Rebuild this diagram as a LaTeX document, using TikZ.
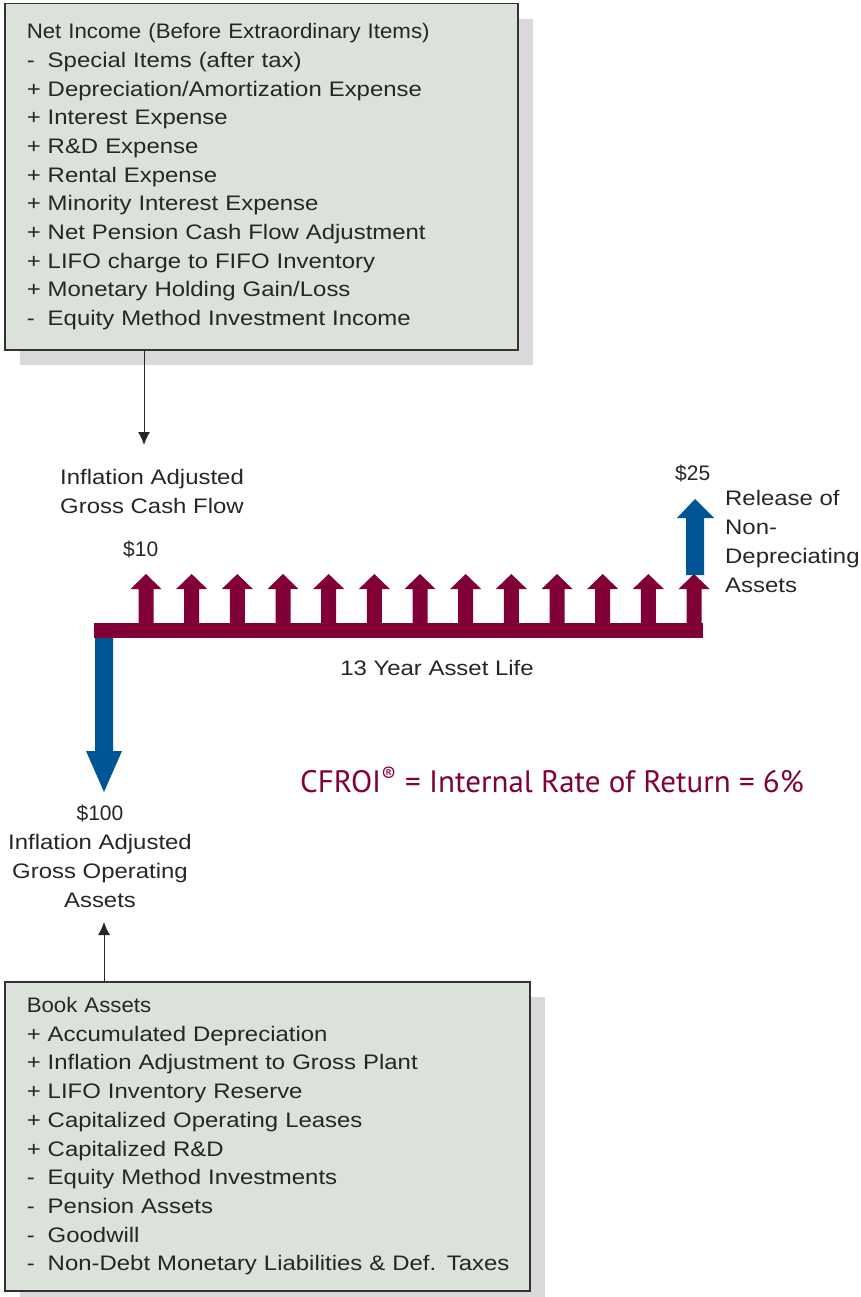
\documentclass[tikz,border=0pt]{standalone}
\usepackage{fontspec}
\setmainfont{Liberation Sans}[FakeStretch=1.14]
\newfontfamily\headfont{Liberation Sans}[FakeStretch=1.06]
\newfontfamily\dollarfont{Liberation Sans}
\newfontfamily\cfroifont{PT Sans}
\usetikzlibrary{arrows.meta,shadows,positioning}

\definecolor{cfmaroon}{RGB}{130,0,56}
\definecolor{cfblue}{RGB}{0,85,150}
\definecolor{boxfill}{RGB}{218,226,217}
\definecolor{boxshadow}{RGB}{217,217,220}
\newcommand{\sgn}[1]{\makebox[21pt][l]{#1}}

\begin{document}
\begin{tikzpicture}[x=1pt,y=-1pt]
   \tikzstyle{lbl}=[inner sep=0pt,font=\fontsize{21}{28.7}\selectfont,text=black!85]
   \tikzstyle{amt}=[lbl,font=\dollarfont\fontsize{21}{28.7}\selectfont]
   \tikzstyle{sumbox}=[draw=black!80,line width=1.5pt,fill=boxfill,inner xsep=22pt,inner ysep=0pt,
      anchor=north west,align=left,font=\fontsize{21}{28.7}\selectfont,text=black!85,
      drop shadow={fill=boxshadow,opacity=1,shadow xshift=15pt,shadow yshift=-15pt}]
   \tikzstyle{thin}=[black!85,line width=1pt,-{Latex[length=13pt,width=12pt]}]

   \useasboundingbox (0,0) rectangle (861,1297);

   % cash flow box
   \node (netinc) [sumbox,text width=469pt,minimum height=346pt] at (4,3) {%
      {\headfont Net Income (Before Extraordinary Items)}\\
      \sgn{-}Special Items (after tax)\\
      \sgn{+}Depreciation/Amortization Expense\\
      \sgn{+}Interest Expense\\
      \sgn{+}R\&D Expense\\
      \sgn{+}Rental Expense\\
      \sgn{+}Minority Interest Expense\\
      \sgn{+}Net Pension Cash Flow Adjustment\\
      \sgn{+}LIFO charge to FIFO Inventory\\
      \sgn{+}Monetary Holding Gain/Loss\\
      \sgn{-}Equity Method Investment Income};

   % asset box
   \node (book) [sumbox,text width=481pt,minimum height=309pt] at (4,981) {%
      {\headfont Book Assets}\\
      \sgn{+}Accumulated Depreciation\\
      \sgn{+}Inflation Adjustment to Gross Plant\\
      \sgn{+}LIFO Inventory Reserve\\
      \sgn{+}Capitalized Operating Leases\\
      \sgn{+}Capitalized R\&D\\
      \sgn{-}Equity Method Investments\\
      \sgn{-}Pension Assets\\
      \sgn{-}Goodwill\\
      \sgn{-}\mbox{Non-Debt Monetary Liabilities \& Def. Taxes}};

   % labels
   \node (gcf) [lbl,anchor=base west,align=left] at (60,513) {Inflation Adjusted\\Gross Cash Flow};
   \node (cf10) [amt,anchor=base west] at (123,556) {\$10};
   \node (cf25) [amt,anchor=base west] at (675,480) {\$25};
   \node (release) [lbl,anchor=base west,align=left] at (725,592) {Release of\\Non-\\Depreciating\\Assets};
   \node (life) [lbl,anchor=base] at (437,675) {13 Year Asset Life};
   \node (cfroi) [inner sep=0pt,anchor=base west,text=cfmaroon,font=\cfroifont\fontsize{31}{36}\selectfont]
      at (300,792) {CFROI\textsuperscript{®} = Internal Rate of Return = 6\%};
   \node (goa) [lbl,anchor=base,align=center] at (100,907) {{\dollarfont\$100}\\Inflation Adjusted\\Gross Operating\\Assets};

   \coordinate (gcftop) at (144,445);
   \coordinate (goatip) at (104,922);
   \draw [thin] (netinc.south -| gcftop) -- (gcftop);
   \draw [thin] (book.north -| goatip) -- (goatip);

   % cash flow line
   \fill [cfmaroon] (94,623) rectangle (703,638);
   \foreach \i in {0,...,12} {
      \pgfmathsetmacro\cx{146+45.67*\i}
      \fill [cfmaroon] (\cx-7.5,624) -- (\cx-7.5,589) -- (\cx-15.5,589) -- (\cx,574)
         -- (\cx+15.5,589) -- (\cx+7.5,589) -- (\cx+7.5,624) -- cycle;
   }
   \fill [cfblue] (686,575) -- (686,518) -- (677,518) -- (695,499) -- (714,518) -- (704,518) -- (704,575) -- cycle;
   \fill [cfblue] (95,638) -- (95,751) -- (86,751) -- (104,792) -- (122,751) -- (113,751) -- (113,638) -- cycle;
\end{tikzpicture}
\end{document}
